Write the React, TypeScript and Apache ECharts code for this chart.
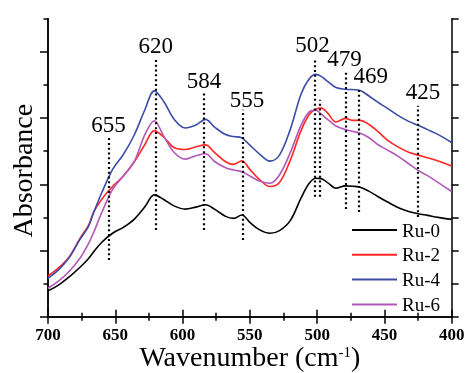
import { useEffect, useRef } from 'react';
import * as echarts from 'echarts';

const wavenumbers = [700, 692, 684, 676, 670, 666, 660, 652, 644, 636, 628, 621, 614, 606, 598, 590, 583, 576, 568, 562, 556, 550, 543, 535, 528, 520, 512, 506, 501, 497, 492, 486, 479, 474, 468, 462, 455, 448, 440, 432, 425, 418, 410, 400];

const ru0 = [0.78, 0.96, 1.21, 1.5, 1.75, 1.96, 2.25, 2.52, 2.7, 2.94, 3.32, 3.68, 3.54, 3.34, 3.25, 3.31, 3.38, 3.24, 3.03, 2.97, 3.07, 2.85, 2.63, 2.52, 2.6, 2.9, 3.58, 4.02, 4.18, 4.17, 4.04, 3.88, 3.95, 3.94, 3.91, 3.8, 3.63, 3.47, 3.3, 3.18, 3.11, 3.06, 3.0, 2.94];
const ru2 = [1.23, 1.48, 1.82, 2.38, 2.75, 3.17, 3.55, 3.93, 4.25, 4.67, 5.2, 5.62, 5.42, 5.1, 5.05, 5.13, 5.19, 4.95, 4.68, 4.6, 4.71, 4.45, 4.15, 3.93, 4.05, 4.72, 5.62, 6.1, 6.27, 6.3, 6.14, 5.88, 5.99, 5.93, 5.93, 5.82, 5.6, 5.34, 5.13, 4.97, 4.88, 4.8, 4.7, 4.55];
const ru4 = [1.16, 1.42, 1.8, 2.35, 2.72, 3.15, 3.75, 4.45, 4.9, 5.48, 6.25, 6.82, 6.5, 5.95, 5.7, 5.79, 5.96, 5.72, 5.5, 5.44, 5.4, 5.18, 4.92, 4.7, 4.88, 5.65, 6.72, 7.18, 7.32, 7.26, 7.1, 6.92, 6.87, 6.86, 6.83, 6.68, 6.48, 6.3, 6.08, 5.9, 5.78, 5.65, 5.5, 5.26];
const ru6 = [0.86, 1.08, 1.38, 1.78, 2.2, 2.55, 3.15, 3.85, 4.25, 4.68, 5.5, 5.92, 5.45, 4.95, 4.76, 4.86, 4.92, 4.68, 4.5, 4.43, 4.38, 4.25, 4.1, 4.03, 4.28, 4.95, 5.78, 6.18, 6.24, 6.12, 5.95, 5.76, 5.65, 5.6, 5.54, 5.42, 5.2, 5.04, 4.85, 4.62, 4.42, 4.26, 4.05, 3.78];

const seriesNames = ['Ru-0', 'Ru-2', 'Ru-4', 'Ru-6'];
const seriesColors = ['#000000', '#ff2626', '#3b4ca8', '#b258b8'];

const peakPositions = [655, 620, 584, 555, 502, 498, 479, 469, 425];
const peakLabels = ['655', '620', '584', '555', '502', '', '479', '469', '425'];
const peakTops = [5.4, 7.78, 6.79, 6.25, 7.76, 6.55, 7.42, 6.85, 6.37];
const peakBottoms = [1.71, 2.62, 2.62, 2.32, 3.62, 3.62, 3.25, 3.16, 3.01];
const labelShifts = [[0, 0], [0, 0], [0, 2], [4, 3], [-2, -2], [0, 0], [-1, 1], [12, -1], [5, -1]];

const xTickValues = [700, 650, 600, 550, 500, 450, 400];

const FONT = 'Liberation Serif, Times New Roman, serif';

export default function App() {
  const ref = useRef<HTMLDivElement>(null);
  useEffect(() => {
    if (!ref.current) return;
    const chart = echarts.init(ref.current, undefined, { renderer: 'svg' });
    const values = [ru0, ru2, ru4, ru6];
    const xBase = {
      type: 'value' as const,
      min: xTickValues[xTickValues.length - 1],
      max: xTickValues[0],
      interval: 50,
      inverse: true,
      splitLine: { show: false },
      axisLine: { lineStyle: { color: '#000', width: 1.5 } },
      axisTick: { length: 7, lineStyle: { color: '#000', width: 1.5 } },
      minorTick: { show: true, splitNumber: 2, length: 4, lineStyle: { color: '#000', width: 1.5 } },
    };
    const yBase = {
      type: 'value' as const,
      min: 0,
      max: 9,
      splitLine: { show: false },
      axisLabel: { show: false },
      axisLine: { show: true, lineStyle: { color: '#000', width: 1.5 } },
    };
    chart.setOption({
      animation: false,
      grid: { left: 48, right: 13.3, top: 18.7, bottom: 56.3, outerBoundsMode: 'none' },
      legend: {
        orient: 'vertical',
        left: 352,
        top: 220.5,
        padding: 0,
        icon: 'rect',
        itemWidth: 45,
        itemHeight: 2,
        itemGap: 5.8,
        data: seriesNames,
        textStyle: { fontFamily: FONT, fontSize: 19, color: '#000' },
      },
      xAxis: [
        {
          ...xBase,
          position: 'bottom',
          axisLabel: {
            show: true,
            fontFamily: FONT,
            fontWeight: 'bold',
            fontSize: 17,
            lineHeight: 16,
            color: '#000',
            margin: 9.5,
            showMinLabel: true,
            showMaxLabel: true,
          },
          name: '{a|Wavenumber (cm}{s|-1}{a|)}',
          nameLocation: 'middle',
          nameGap: 27.5,
          nameMoveOverlap: false,
          nameTextStyle: {
            rich: {
              a: { fontFamily: FONT, fontSize: 28, color: '#000', lineHeight: 25 },
              s: { fontFamily: FONT, fontSize: 15, color: '#000', lineHeight: 12, verticalAlign: 'top' },
            },
          },
        },
        { ...xBase, position: 'top', axisLabel: { show: false } },
      ],
      yAxis: [
        {
          ...yBase,
          position: 'left',
          axisTick: { show: true, length: 8, customValues: [0, 2, 4, 6, 8], lineStyle: { color: '#000', width: 1.5 } },
          name: 'Absorbance',
          nameLocation: 'middle',
          nameGap: 12,
          nameMoveOverlap: false,
          nameTextStyle: { fontFamily: FONT, fontSize: 28, color: '#000', padding: [0, 6, 0, 0] },
        },
        {
          ...yBase,
          position: 'left',
          axisTick: { show: true, length: 4.5, customValues: [1, 3, 5, 7, 9], lineStyle: { color: '#000', width: 1.5 } },
        },
        {
          ...yBase,
          position: 'right',
          interval: 1,
          axisTick: { show: true, length: 7, lineStyle: { color: '#000', width: 1.5 } },
        },
      ],
      series: seriesNames.map((name, si) => ({
        name,
        type: 'line',
        xAxisIndex: 0,
        yAxisIndex: 0,
        symbol: 'none',
        smooth: 0.35,
        color: seriesColors[si],
        lineStyle: { color: seriesColors[si], width: 1.6 },
        data: wavenumbers.map((w, i) => [w, values[si][i]]),
        markLine:
          si === 0
            ? {
                silent: true,
                symbol: ['none', 'none'],
                lineStyle: { type: [2, 2.8], color: '#000', width: 2.2 },
                label: {
                  show: true,
                  position: 'end',
                  distance: 2,
                  fontFamily: FONT,
                  fontSize: 23,
                  color: '#000',
                },
                data: peakPositions.map((p, i) => [
                  {
                    coord: [p, peakBottoms[i]],
                    label: {
                      show: peakLabels[i] !== '',
                      formatter: peakLabels[i] || ' ',
                      offset: labelShifts[i],
                    },
                  },
                  { coord: [p, peakTops[i]] },
                ]),
              }
            : undefined,
      })),
    });
    return () => chart.dispose();
  }, []);
  return <div ref={ref} style={{ position: 'fixed', left: 0, top: 0, width: 465, height: 373 }} />;
}
